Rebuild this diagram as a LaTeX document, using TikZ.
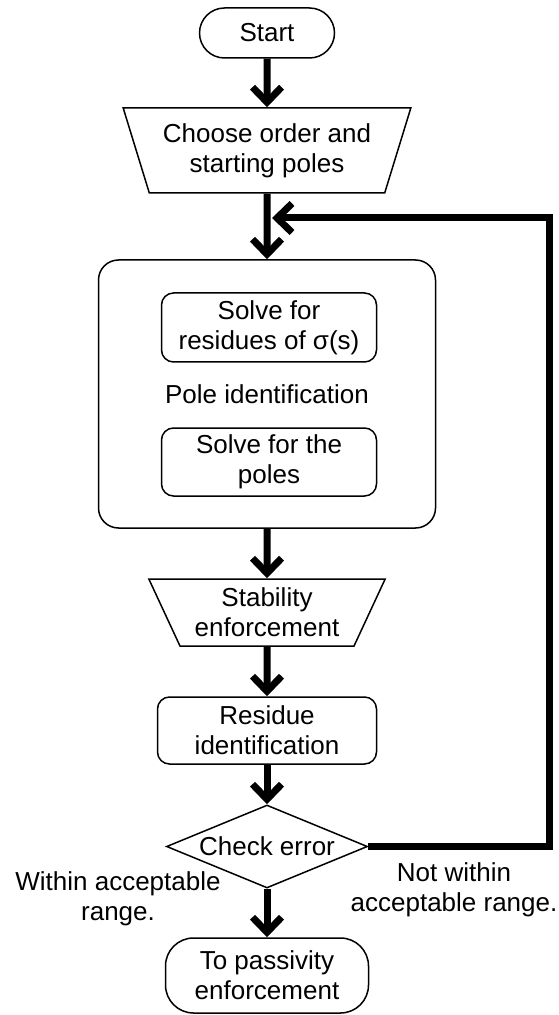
\documentclass[tikz,border=0pt]{standalone}
\usepackage{fontspec}
\setmainfont{Liberation Sans}
\usetikzlibrary{arrows.meta, shapes.geometric}

\begin{document}
\begin{tikzpicture}[x=0.5pt, y=-0.5pt, line width=0.75pt,
	every node/.style={font=\fontsize{13}{15}\selectfont, align=center, inner sep=1pt},
	roundbox/.style={draw, rounded corners=#1}, roundbox/.default=6pt,
	slantbox/.style={draw, trapezium, shape border rotate=180, trapezium stretches=true, trapezium angle=#1},
	checkbox/.style={draw, diamond, aspect=2.42, inner sep=0pt},
	flow/.style={line width=3.5pt, -{Straight Barb[length=7.5pt, width=14.5pt]}}]

	\useasboundingbox (0,0) rectangle (558,1015);

	% ============ MAIN COLUMN ============

	\node[roundbox=12.5pt, minimum width=67.5pt, minimum height=25pt] (start) at (267,33) {Start};
	\node[slantbox=68, minimum width=144pt, minimum height=42.5pt] (choose) at (267,150.5) {Choose order and\\starting poles};

	% Pole identification block
	\node[roundbox=10pt, minimum width=168.5pt, minimum height=134pt] (poleid) at (267,394) {Pole identification};
	\node[roundbox, minimum width=107.5pt, minimum height=34.5pt] (sigma) at (269,327.5) {Solve for\\residues of σ(s)};
	\node[roundbox, minimum width=107.5pt, minimum height=34pt] (poles) at (269,462) {Solve for the\\poles};

	\node[slantbox=63.4, minimum width=118.5pt, minimum height=33.5pt] (stab) at (267,612.5) {Stability\\enforcement};
	\node[roundbox, minimum width=109.5pt, minimum height=33.5pt] (resid) at (267,730.5) {Residue\\identification};
	\node[checkbox, minimum width=100.5pt, minimum height=41.5pt] (check) at (267,846.5) {Check error};
	\node[roundbox=14pt, minimum width=101.5pt, minimum height=37.5pt] (passiv) at (267,975.5) {To passivity\\enforcement};

	% Labels
	\node (okay) at (118,899) {Within acceptable\\range.};
	\node (notok) at (454,890) {Not within\\acceptable range.};

	% ============ CONNECTORS ============

	\foreach \a/\b in {start/choose, choose/poleid, poleid/stab, stab/resid, resid/check, check/passiv}
		\draw[flow] (\a) -- (\b);

	% Feedback loop
	\coordinate (merge) at (272,218);
	\draw[flow] (check.east) -- ++(181,0) |- (merge);

\end{tikzpicture}
\end{document}
